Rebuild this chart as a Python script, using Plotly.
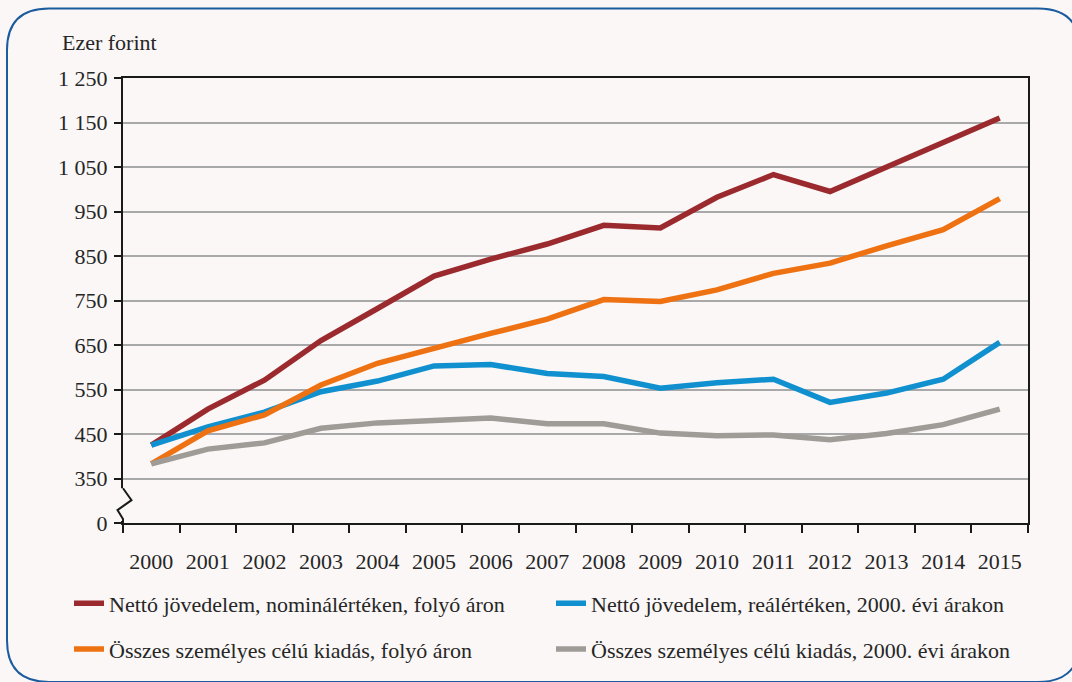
import plotly.graph_objects as go

years = [str(y) for y in range(2000, 2016)]
netto_nominal = [425, 506, 571, 660, 732, 805, 843, 877, 919, 913, 982, 1033, 995, 1050, 1105, 1160]
netto_real = [425, 466, 499, 545, 569, 603, 606, 586, 579, 553, 565, 573, 521, 542, 573, 656]
kiadas_nominal = [383, 457, 493, 560, 609, 644, 676, 708, 752, 748, 774, 811, 834, 873, 909, 979]
kiadas_real = [383, 416, 430, 463, 475, 482, 486, 473, 473, 452, 446, 448, 437, 451, 471, 506]

y_tickvals = [250, 350, 450, 550, 650, 750, 850, 950, 1050, 1150, 1250]
y_ticktext = ["0", "350", "450", "550", "650", "750", "850", "950", "1 050", "1 150", "1 250"]

names = [
    "Nettó jövedelem, nominálértéken, folyó áron",
    "Nettó jövedelem, reálértéken, 2000. évi árakon",
    "Összes személyes célú kiadás, folyó áron",
    "Összes személyes célú kiadás, 2000. évi árakon",
]
colors = ["#9b2a2e", "#1190cf", "#ee7112", "#9f9b96"]

FONT = "Liberation Serif"
TXT = "#262626"
BG = "#faf7f6"

W, H = 1072, 682
L, R, T, B = 123, 1028, 78, 526


def pp(px, py):
    return ((px - L) / (R - L), (B - py) / (B - T))


fig = go.Figure()
series = [netto_nominal, netto_real, kiadas_nominal, kiadas_real]
legends = ["legend", "legend", "legend2", "legend2"]
for s, n, c, lg in zip(series, names, colors, legends):
    fig.add_trace(go.Scatter(
        x=years, y=s, name=n, mode="lines",
        line=dict(color=c, width=5.5),
        legend=lg,
    ))

shapes = []


def P(px, py):
    a, b = pp(px, py)
    return f"{a:.5f},{b:.5f}"


# rounded border
x0, y0, x1, y1, r = 7, 8, 1080, 686, 42
path = (f"M{P(x0 + r, y0)} L{P(x1 - r, y0)} Q{P(x1, y0)} {P(x1, y0 + r)} "
        f"L{P(x1, y1 - r)} Q{P(x1, y1)} {P(x1 - r, y1)} L{P(x0 + r, y1)} "
        f"Q{P(x0, y1)} {P(x0, y1 - r)} L{P(x0, y0 + r)} Q{P(x0, y0)} {P(x0 + r, y0)} Z")
shapes.append(dict(type="path", xref="paper", yref="paper", path=path,
                   line=dict(color="#1b5c9e", width=2), layer="below"))
# axis break
shapes.append(dict(type="path", xref="paper", yref="paper",
                   path=f"M{P(123, 491)} L{P(123, 524)}",
                   line=dict(color=BG, width=5), layer="above"))
shapes.append(dict(type="path", xref="paper", yref="paper",
                   path=f"M{P(123, 491)} L{P(131.5, 503)} L{P(117.5, 513)} L{P(123, 522)} L{P(123, 526)}",
                   line=dict(color="#1a1a1a", width=2), layer="above"))

ex, ey = pp(60, 42)

leg_common = dict(orientation="h", xref="paper", yref="paper",
                  x=pp(69, 0)[0], xanchor="left", yanchor="middle",
                  entrywidth=437, entrywidthmode="pixels", itemwidth=30,
                  bgcolor="rgba(0,0,0,0)", font=dict(family=FONT, size=22, color=TXT))

fig.update_layout(
    width=W, height=H,
    margin=dict(l=L, r=W - R, t=T, b=H - B),
    paper_bgcolor=BG, plot_bgcolor=BG,
    font=dict(family=FONT, size=22, color=TXT),
    showlegend=True,
    legend=dict(leg_common, y=pp(0, 607)[1]),
    legend2=dict(leg_common, y=pp(0, 653)[1]),
    xaxis=dict(type="category", tickson="boundaries", ticks="outside", ticklen=8,
               tickwidth=2, tickcolor="#1a1a1a", showline=True, linecolor="#1a1a1a",
               linewidth=2, mirror=True, showgrid=False, zeroline=False,
               ticklabelstandoff=18, range=[-0.5, 15.5]),
    yaxis=dict(range=[250, 1250], tickvals=y_tickvals, ticktext=y_ticktext,
               ticks="outside", ticklen=7, tickwidth=2, tickcolor="#1a1a1a",
               showline=True, linecolor="#1a1a1a", linewidth=2, mirror=True,
               showgrid=True, gridcolor="#a9a9a9", gridwidth=1.5, zeroline=False,
               ticklabelstandoff=2),
    annotations=[dict(text="Ezer forint", x=ex, y=ey, xref="paper", yref="paper",
                      xanchor="left", yanchor="middle", showarrow=False,
                      font=dict(family=FONT, size=22, color=TXT))],
    shapes=shapes,
)

fig.write_html(
    "out.html",
    config={"displayModeBar": False},
    post_script=("document.body.style.margin='0';"
                 "document.body.style.overflow='hidden';"
                 "document.body.style.background='" + BG + "';"),
)
